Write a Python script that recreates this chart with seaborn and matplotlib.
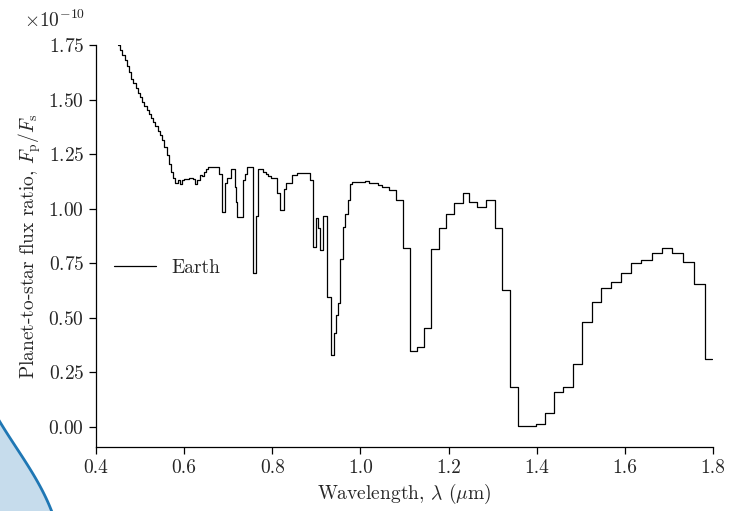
import numpy as np
import pandas as pd
import matplotlib
matplotlib.use("Agg")
import matplotlib.pyplot as plt
import matplotlib.transforms as mtransforms
import seaborn as sns

# ---- data (flux ratio in units of 1e-10) ----
wavelength = [
    0.450, 0.455, 0.460, 0.465, 0.470, 0.475, 0.480, 0.485, 0.490, 0.495,
    0.500, 0.505, 0.510, 0.515, 0.520, 0.525, 0.530, 0.535, 0.540, 0.545,
    0.550, 0.555, 0.560, 0.565, 0.570, 0.575, 0.580, 0.585, 0.590, 0.595,
    0.600, 0.610, 0.620, 0.625, 0.630, 0.635, 0.640, 0.645, 0.650, 0.655,
    0.670, 0.680, 0.687, 0.693, 0.698, 0.706, 0.715, 0.718, 0.720, 0.733,
    0.738, 0.742, 0.756, 0.763, 0.768, 0.780, 0.785, 0.790, 0.797, 0.810,
    0.817, 0.827, 0.832, 0.845, 0.856, 0.886, 0.892, 0.899, 0.904, 0.908,
    0.916, 0.924, 0.934, 0.940, 0.944, 0.948, 0.953, 0.960, 0.966, 0.971,
    0.976, 0.982, 1.010, 1.020, 1.040, 1.050, 1.065, 1.080, 1.097, 1.112,
    1.128, 1.145, 1.160, 1.178, 1.195, 1.212, 1.233, 1.247, 1.265, 1.285,
    1.305, 1.321, 1.339, 1.357, 1.398, 1.419, 1.440, 1.460, 1.482, 1.502,
    1.525, 1.546, 1.568, 1.591, 1.614, 1.637, 1.662, 1.684, 1.707, 1.731,
    1.757, 1.781, 1.798,
]
flux_ratio = [
    1.750, 1.728, 1.705, 1.680, 1.655, 1.625, 1.595, 1.575, 1.552, 1.530,
    1.510, 1.490, 1.470, 1.452, 1.435, 1.415, 1.398, 1.378, 1.358, 1.337,
    1.315, 1.285, 1.245, 1.205, 1.170, 1.140, 1.120, 1.130, 1.115, 1.130,
    1.135, 1.140, 1.135, 1.115, 1.130, 1.155, 1.150, 1.170, 1.180, 1.190,
    1.190, 1.160, 0.985, 1.120, 1.140, 1.180, 1.100, 1.030, 0.960, 1.130,
    1.160, 1.190, 0.705, 0.965, 1.180, 1.170, 1.160, 1.150, 1.140, 1.070,
    0.994, 1.090, 1.120, 1.155, 1.162, 1.130, 0.825, 0.957, 0.910, 0.810,
    0.965, 0.596, 0.330, 0.430, 0.513, 0.568, 0.770, 0.916, 0.975, 1.040,
    1.113, 1.122, 1.125, 1.118, 1.110, 1.100, 1.085, 1.040, 0.820, 0.348,
    0.366, 0.453, 0.815, 0.910, 0.976, 1.027, 1.070, 1.030, 1.008, 1.040,
    0.910, 0.628, 0.183, 0.005, 0.014, 0.064, 0.160, 0.183, 0.289, 0.480,
    0.573, 0.637, 0.664, 0.706, 0.750, 0.765, 0.797, 0.820, 0.797, 0.756,
    0.655, 0.310, 0.310,
]
flux_scale = 1e-10
series_label = "Earth"

x_ticks = [0.4, 0.6, 0.8, 1.0, 1.2, 1.4, 1.6, 1.8]
y_ticks = [0.00, 0.25, 0.50, 0.75, 1.00, 1.25, 1.50, 1.75]

# values of the stray density curve peeking in at the lower left corner
kde_values = [-1.0, 0.0, 1.0]

df = pd.DataFrame({"wavelength": wavelength,
                   "flux": np.array(flux_ratio) * flux_scale})

# ---- style ----
sns.set_style("ticks")
plt.rcParams["font.family"] = ["cmr10", "DejaVu Serif"]
plt.rcParams["mathtext.fontset"] = "cm"
plt.rcParams["axes.formatter.use_mathtext"] = True
plt.rcParams["axes.unicode_minus"] = True
plt.rcParams["font.size"] = 14

fig = plt.figure(figsize=(7.32, 5.11), dpi=100)

# stray kde axes (mostly outside the figure)
ax2 = fig.add_axes([-0.0489, -0.7074, 0.1705, 1.1644])
sns.kdeplot(y=kde_values, fill=True, ax=ax2, color="#1f77b4", linewidth=2)
ax2.set_xlim(0, 0.4)
ax2.set_ylim(-3.5, 3.5)
ax2.axis("off")
ax2.patch.set_alpha(0)

ax = fig.add_axes([96 / 732, (511 - 447) / 511, (713 - 96) / 732, (447 - 45) / 511])
sns.lineplot(data=df, x="wavelength", y="flux", drawstyle="steps-post",
             color="black", linewidth=0.9, label=series_label, ax=ax)

ax.set_xlim(0.4, 1.8)
ax.set_ylim(-0.0916 * flux_scale, 1.75 * flux_scale)
ax.set_xticks(x_ticks)
ax.set_yticks(np.array(y_ticks) * flux_scale)
ax.xaxis.set_major_formatter(matplotlib.ticker.FormatStrFormatter("%.1f"))
fmt = matplotlib.ticker.ScalarFormatter(useMathText=True)
ax.yaxis.set_major_formatter(fmt)
ax.tick_params(direction="out", length=5, width=0.9, labelsize=14, color="black")
for s in ["left", "bottom"]:
    ax.spines[s].set_linewidth(0.9)
    ax.spines[s].set_color("black")
sns.despine(ax=ax)

ax.set_xlabel(r"Wavelength, $\lambda$ ($\mathrm{\mu}$m)", fontsize=14)
ax.set_ylabel(r"Planet-to-star flux ratio, $F_\mathrm{p}/F_\mathrm{s}$", fontsize=14)

off = ax.yaxis.get_offset_text()
off.set_fontsize(14)
off.set_x(-0.117)
off.set_transform(off.get_transform() +
                  mtransforms.ScaledTranslation(0, 0.14, fig.dpi_scale_trans))

ax.legend(loc="center left", bbox_to_anchor=(0.0, 0.445), frameon=False,
          fontsize=14, handlelength=2.2)

fig.savefig("out.png", dpi=100)
